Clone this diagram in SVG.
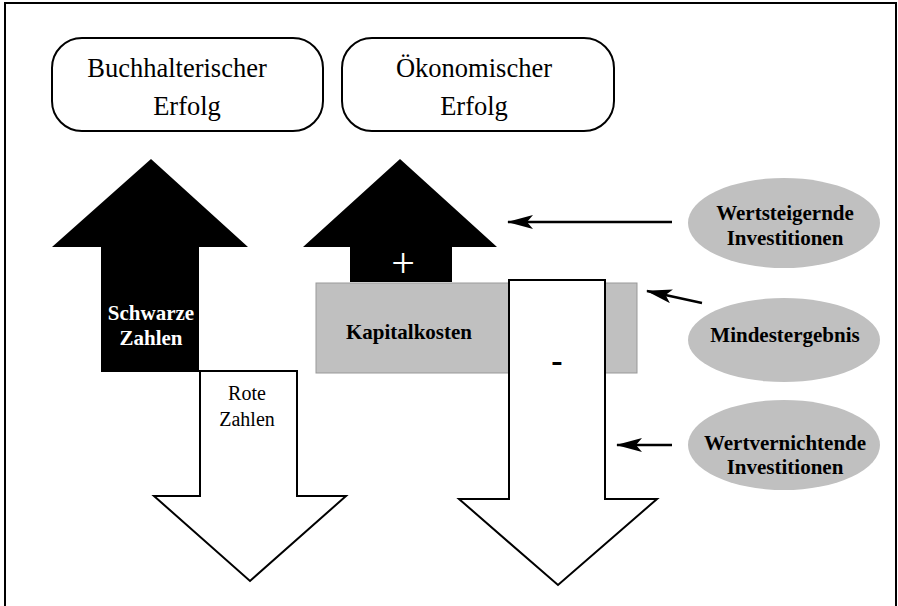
<svg xmlns="http://www.w3.org/2000/svg" width="898" height="606" viewBox="0 0 898 606">
<defs>
<style>
.serif{font-family:"Liberation Serif","Times New Roman",serif;}
.box{fill:#fff;stroke:#000;stroke-width:2;}
.lbl{font-size:26.5px;text-anchor:middle;fill:#000;}
.bold{font-weight:bold;font-size:21px;text-anchor:middle;}
.ell{fill:#c0c0c0;stroke:none;}
.conn{stroke:#000;stroke-width:2.5;fill:none;}
</style>
<marker id="ah2" markerWidth="26" markerHeight="14" refX="25" refY="7" orient="auto" markerUnits="userSpaceOnUse">
<path d="M0,0 L26,7 L0,14 L6,7 Z" fill="#000"/>
</marker>
</defs>
<rect x="0" y="0" width="898" height="606" fill="#fff"/>
<path d="M5,606 V3 H896 V606" fill="none" stroke="#000" stroke-width="2"/>

<g id="buchhalterischer-erfolg">
<rect class="box" x="52" y="38" width="271" height="93" rx="30" ry="30"/>
<text class="serif lbl" x="177" y="77">Buchhalterischer</text>
<text class="serif lbl" x="187" y="115">Erfolg</text>
</g>

<g id="oekonomischer-erfolg">
<rect class="box" x="342" y="38" width="272" height="93" rx="30" ry="30"/>
<text class="serif lbl" x="474" y="77">Ökonomischer</text>
<text class="serif lbl" x="474" y="115">Erfolg</text>
</g>

<g id="schwarze-zahlen">
<path d="M151,159 L248,247 L199,247 L199,372 L101,372 L101,247 L52,247 Z" fill="#000"/>
<text class="serif bold" x="151" y="320" fill="#fff">Schwarze</text>
<text class="serif bold" x="151" y="345" fill="#fff">Zahlen</text>
</g>

<g id="rote-zahlen">
<path d="M200,371 L297,371 L297,496 L346,496 L250,581 L154,496 L200,496 Z" fill="#fff" stroke="#000" stroke-width="2"/>
<text class="serif" x="247" y="400" font-size="20" text-anchor="middle">Rote</text>
<text class="serif" x="247" y="426" font-size="20" text-anchor="middle">Zahlen</text>
</g>

<g id="plus-arrow">
<path d="M400,159 L497,247 L452,247 L452,282 L350,282 L350,247 L303,247 Z" fill="#000"/>
<text class="serif" x="403" y="277" font-size="42" fill="#fff" text-anchor="middle">+</text>
</g>

<g id="kapitalkosten">
<rect x="316" y="283" width="321" height="90" fill="#c0c0c0" stroke="#999" stroke-width="1"/>
<text class="serif bold" x="409" y="339" fill="#000">Kapitalkosten</text>
</g>

<g id="minus-arrow">
<path d="M509,280 L605,280 L605,499 L657,499 L558,585 L459,499 L509,499 Z" fill="#fff" stroke="#000" stroke-width="2"/>
<text class="serif" x="557" y="372" font-size="34" font-weight="bold" text-anchor="middle">-</text>
</g>

<g id="wertsteigernde">
<ellipse class="ell" cx="784" cy="223" rx="96" ry="45"/>
<text class="serif bold" x="785" y="220">Wertsteigernde</text>
<text class="serif bold" x="785" y="245">Investitionen</text>
</g>

<g id="mindestergebnis">
<ellipse class="ell" cx="784" cy="340" rx="96" ry="42"/>
<text class="serif bold" x="785" y="342">Mindestergebnis</text>
</g>

<g id="wertvernichtende">
<ellipse class="ell" cx="784" cy="445" rx="96" ry="45"/>
<text class="serif bold" x="785" y="450">Wertvernichtende</text>
<text class="serif bold" x="785" y="474">Investitionen</text>
</g>

<g id="connectors">
<line class="conn" x1="672" y1="222" x2="508" y2="222" marker-end="url(#ah2)"/>
<line class="conn" x1="702" y1="303" x2="647" y2="291" marker-end="url(#ah2)"/>
<line class="conn" x1="672" y1="445" x2="617" y2="445" marker-end="url(#ah2)"/>
</g>
</svg>
